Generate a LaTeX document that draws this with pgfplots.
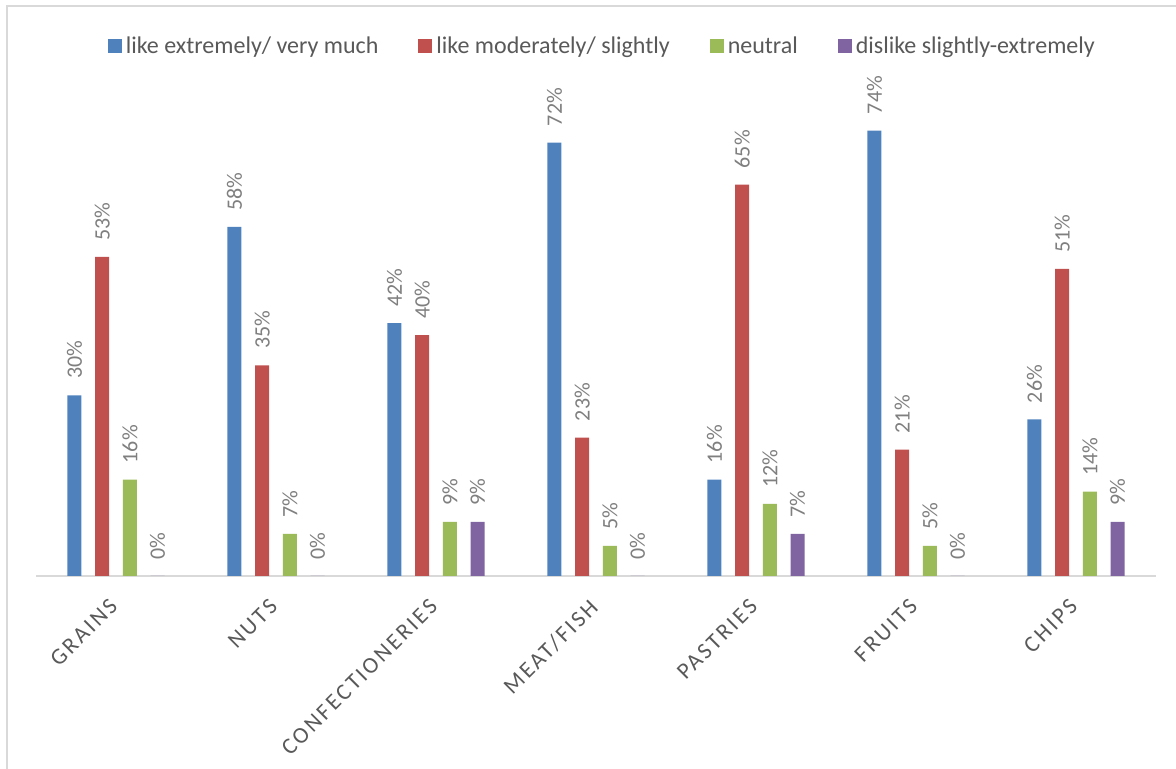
\documentclass[border=0pt]{standalone}
\usepackage{pgfplots}
\pgfplotsset{compat=1.18}
\usepackage{fontspec}
\setmainfont{Carlito}
\newfontfamily\spaced[LetterSpace=11]{Carlito}
\definecolor{cblue}{HTML}{4F81BD}
\definecolor{cred}{HTML}{C0504D}
\definecolor{cgreen}{HTML}{9BBB59}
\definecolor{cpurple}{HTML}{8064A2}
\definecolor{bordergray}{HTML}{D9D9D9}
\definecolor{legendgray}{HTML}{595959}
\definecolor{valgray}{HTML}{7F7F7F}
\begin{document}
\begin{tikzpicture}
\draw[bordergray, line width=1pt] (3.5pt,0pt) -- (3.5pt,381.5pt) -- (588pt,381.5pt);
\begin{axis}[
  at={(18pt,96.5pt)}, anchor=south west,
  scale only axis, width=560pt, height=240.8pt,
  xmin=-0.5, xmax=6.5, ymin=0, ymax=80,
  clip=false,
  ybar=6.85pt, bar width=7pt,
  axis y line=none,
  axis x line*=bottom,
  x axis line style={-, draw=bordergray, line width=1pt},
  xtick={0,...,6},
  xticklabels={GRAINS,NUTS,CONFECTIONERIES,MEAT/FISH,PASTRIES,FRUITS,CHIPS},
  major tick length=0pt,
  xticklabel shift=10.5pt,
  x tick label style={xshift=-4pt, rotate=45, anchor=north east, inner sep=0pt,
    font=\spaced\fontsize{11.5}{13}\selectfont, text=legendgray},
  /pgf/number format/assume math mode=true,
  nodes near coords={\pgfmathprintnumber{\pgfplotspointmeta}\%},
  every node near coord/.append style={rotate=90, anchor=west,
    font=\fontsize{11}{13}\selectfont, text=valgray, inner xsep=8pt, inner ysep=0pt},
  legend image code/.code={\fill[#1] (0pt,-3.5pt) rectangle (7pt,3.5pt);},
  legend style={at={(0.5065,1.1)}, anchor=center, draw=none, legend columns=4,
    font=\fontsize{12}{14}\selectfont, text=legendgray,
    cells={anchor=west}, nodes={inner xsep=2pt},
    /tikz/every even column/.append style={column sep=18pt}},
]
\addplot[fill=cblue, draw=none] coordinates {(0,30) (1,58) (2,42) (3,72) (4,16) (5,74) (6,26)};
\addplot[fill=cred, draw=none] coordinates {(0,53) (1,35) (2,40) (3,23) (4,65) (5,21) (6,51)};
\addplot[fill=cgreen, draw=none] coordinates {(0,16) (1,7) (2,9) (3,5) (4,12) (5,5) (6,14)};
\addplot[fill=cpurple, draw=none] coordinates {(0,0) (1,0) (2,9) (3,0) (4,7) (5,0) (6,9)};
\legend{like extremely/ very much, like moderately/ slightly, neutral, dislike slightly-extremely}
\end{axis}
\pgfresetboundingbox
\path[use as bounding box] (0pt,0pt) rectangle (588pt,384.5pt);
\end{tikzpicture}
\end{document}
